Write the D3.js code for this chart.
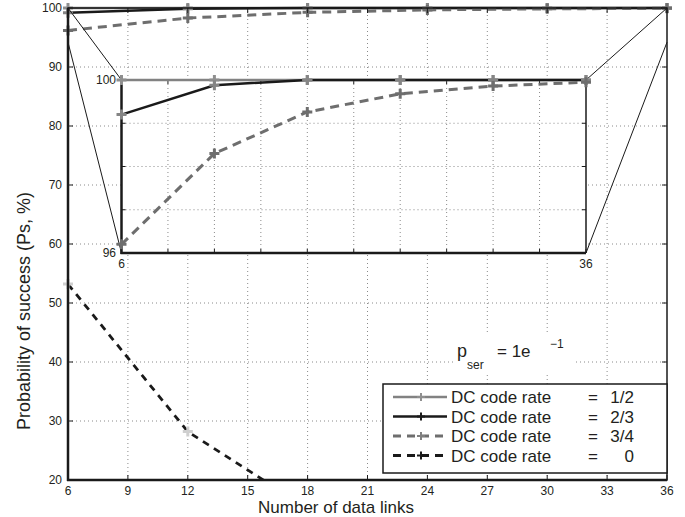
<!DOCTYPE html>
<html>
<head>
<meta charset="utf-8">
<script src="https://cdn.jsdelivr.net/npm/d3@7"></script>
<style>
body { margin: 0; background: #fff; }
text { font-family: "Liberation Sans", Arial, sans-serif; fill: #231f20; }
</style>
</head>
<body>
<svg id="chart" width="685" height="517"></svg>
<script>
// Values.
var links = [6, 12, 18, 24, 30, 36];
var rate_half = [100, 100, 100, 100, 100, 100];
var rate_two_thirds = [99.2, 99.88, 100, 100, 100, 100];
var rate_three_quarters = [96.2, 98.3, 99.26, 99.68, 99.86, 99.95];
var rate_zero = [53.2, 28.2, 15.2, 9, 5, 3];

var x_ticks = [6, 9, 12, 15, 18, 21, 24, 27, 30, 33, 36];
var y_ticks = [20, 30, 40, 50, 60, 70, 80, 90, 100];
var inset_y_ticks = [96, 97, 98, 99, 100];
var inset_y_labels = [96, 100];
var inset_x_labels = [6, 36];
var legend_names = ["DC code rate", "DC code rate", "DC code rate", "DC code rate"];
var legend_rates = ["1/2", "2/3", "3/4", "0"];

var svg = d3.select("#chart");

var x = d3.scaleLinear().domain([6, 36]).range([68, 667]);
var y = d3.scaleLinear().domain([20, 100]).range([480, 8]);
var xi = d3.scaleLinear().domain([6, 36]).range([121.5, 586]);
var yi = d3.scaleLinear().domain([96, 100]).range([253, 80]);

var series = [
    {values: rate_half, stroke: "#828282", dash: null, width: 2.5, marker: "#8f8f8f", legend_marker: "#8f8f8f"},
    {values: rate_two_thirds, stroke: "#1a1a1a", dash: null, width: 2.5, marker: "#858585", legend_marker: "#1a1a1a"},
    {values: rate_three_quarters, stroke: "#6e6e6e", dash: "9,6", width: 3, marker: "#6e6e6e", legend_marker: "#808080"},
    {values: rate_zero, stroke: "#1a1a1a", dash: "7,6", width: 2.8, marker: "#cfcfcf", legend_marker: "#1a1a1a"}
];

function plus(size) {
    return "M" + (-size) + ",0H" + size + "M0," + (-size) + "V" + size;
}

var defs = svg.append("defs");
defs.append("clipPath").attr("id", "main_clip").append("rect")
    .attr("x", 60).attr("y", 0).attr("width", 615).attr("height", 480);

// Main grid.
var grid = svg.append("g").attr("stroke", "#8a8a8a").attr("stroke-dasharray", "1,3");
grid.selectAll(".vg").data(x_ticks.slice(1, -1)).enter().append("line")
    .attr("x1", function(d) { return x(d); }).attr("x2", function(d) { return x(d); })
    .attr("y1", y(20)).attr("y2", y(100));
grid.selectAll(".hg").data(y_ticks.slice(1, -1)).enter().append("line")
    .attr("y1", function(d) { return y(d); }).attr("y2", function(d) { return y(d); })
    .attr("x1", x(6)).attr("x2", x(36));

// White patch behind the annotation.
svg.append("rect").attr("x", 454).attr("y", 334).attr("width", 122).attr("height", 38).attr("fill", "#fff");

// Main series.
var line_main = d3.line()
    .x(function(d, i) { return x(links[i]); })
    .y(function(d) { return y(d); });

var main_g = svg.append("g").attr("clip-path", "url(#main_clip)");
series.forEach(function(s) {
    main_g.append("path")
        .attr("d", line_main(s.values))
        .attr("fill", "none")
        .attr("stroke", s.stroke)
        .attr("stroke-width", s.width)
        .attr("stroke-dasharray", s.dash);
});
series.forEach(function(s) {
    main_g.selectAll(null).data(s.values).enter().append("path")
        .attr("d", plus(5))
        .attr("transform", function(d, i) { return "translate(" + x(links[i]) + "," + y(d) + ")"; })
        .attr("stroke", s.marker)
        .attr("stroke-width", 3);
});

// Main box and ticks.
var axes = svg.append("g").attr("stroke", "#1a1a1a");
axes.append("rect").attr("x", x(6)).attr("y", y(100)).attr("width", x(36) - x(6)).attr("height", y(20) - y(100))
    .attr("fill", "none").attr("stroke-width", 1.5);
axes.append("line").attr("x1", x(6)).attr("x2", x(6)).attr("y1", y(100)).attr("y2", y(20) + 1).attr("stroke-width", 2.5);
axes.append("line").attr("x1", x(6) - 1).attr("x2", x(36)).attr("y1", y(20)).attr("y2", y(20)).attr("stroke-width", 2.5);
x_ticks.forEach(function(t) {
    axes.append("line").attr("x1", x(t)).attr("x2", x(t)).attr("y1", y(20)).attr("y2", y(20) - 5);
    axes.append("line").attr("x1", x(t)).attr("x2", x(t)).attr("y1", y(100)).attr("y2", y(100) + 5);
});
y_ticks.forEach(function(t) {
    axes.append("line").attr("x1", x(6)).attr("x2", x(6) + 5).attr("y1", y(t)).attr("y2", y(t));
    axes.append("line").attr("x1", x(36)).attr("x2", x(36) - 5).attr("y1", y(t)).attr("y2", y(t));
});

svg.selectAll(".xt").data(x_ticks).enter().append("text")
    .attr("x", function(d) { return x(d); }).attr("y", 494.5)
    .attr("text-anchor", "middle").attr("font-size", 12).text(function(d) { return d; });
svg.selectAll(".yt").data(y_ticks).enter().append("text")
    .attr("x", 62).attr("y", function(d) { return y(d); }).attr("dy", "0.36em")
    .attr("text-anchor", "end").attr("font-size", 12).text(function(d) { return d; });

svg.append("text").attr("x", 336).attr("y", 512.5).attr("text-anchor", "middle")
    .attr("font-size", 17).text("Number of data links");
svg.append("text").attr("transform", "translate(30,311) rotate(-90)").attr("text-anchor", "middle")
    .attr("font-size", 18).text("Probability of success (Ps, %)");

// Connector lines from the zoomed region to the inset.
var conn = svg.append("g").attr("stroke", "#1a1a1a").attr("stroke-width", 1);
conn.append("line").attr("x1", x(6)).attr("y1", y(100)).attr("x2", xi(6)).attr("y2", yi(100));
conn.append("line").attr("x1", x(6)).attr("y1", y(94.2)).attr("x2", xi(6)).attr("y2", yi(96));
conn.append("line").attr("x1", x(36)).attr("y1", y(100)).attr("x2", xi(36)).attr("y2", yi(100));
conn.append("line").attr("x1", x(36)).attr("y1", y(94.2)).attr("x2", xi(36)).attr("y2", yi(96));

// Inset.
var inset = svg.append("g");
inset.append("rect").attr("x", xi(6)).attr("y", yi(100)).attr("width", xi(36) - xi(6)).attr("height", yi(96) - yi(100))
    .attr("fill", "#fff");
var igrid = inset.append("g").attr("stroke", "#8a8a8a").attr("stroke-dasharray", "1,3");
igrid.selectAll(null).data(x_ticks.slice(1, -1)).enter().append("line")
    .attr("x1", function(d) { return xi(d); }).attr("x2", function(d) { return xi(d); })
    .attr("y1", yi(96)).attr("y2", yi(100));
igrid.selectAll(null).data(inset_y_ticks.slice(1, -1)).enter().append("line")
    .attr("y1", function(d) { return yi(d); }).attr("y2", function(d) { return yi(d); })
    .attr("x1", xi(6)).attr("x2", xi(36));

var iaxes = inset.append("g").attr("stroke", "#1a1a1a");
x_ticks.forEach(function(t) {
    iaxes.append("line").attr("x1", xi(t)).attr("x2", xi(t)).attr("y1", yi(96)).attr("y2", yi(96) - 4);
    iaxes.append("line").attr("x1", xi(t)).attr("x2", xi(t)).attr("y1", yi(100)).attr("y2", yi(100) + 4);
});
inset_y_ticks.forEach(function(t) {
    iaxes.append("line").attr("x1", xi(6)).attr("x2", xi(6) + 4).attr("y1", yi(t)).attr("y2", yi(t));
    iaxes.append("line").attr("x1", xi(36)).attr("x2", xi(36) - 4).attr("y1", yi(t)).attr("y2", yi(t));
});
iaxes.append("line").attr("x1", xi(36)).attr("x2", xi(36)).attr("y1", yi(100)).attr("y2", yi(96)).attr("stroke-width", 1.5);
iaxes.append("line").attr("x1", xi(6)).attr("x2", xi(36)).attr("y1", yi(100)).attr("y2", yi(100)).attr("stroke-width", 1.5);

var line_inset = d3.line()
    .x(function(d, i) { return xi(links[i]); })
    .y(function(d) { return yi(d); });
series.slice(0, 3).forEach(function(s) {
    inset.append("path")
        .attr("d", line_inset(s.values))
        .attr("fill", "none")
        .attr("stroke", s.stroke)
        .attr("stroke-width", s.width)
        .attr("stroke-dasharray", s.dash);
});
series.slice(0, 3).forEach(function(s) {
    inset.selectAll(null).data(s.values).enter().append("path")
        .attr("d", plus(5))
        .attr("transform", function(d, i) { return "translate(" + xi(links[i]) + "," + yi(d) + ")"; })
        .attr("stroke", s.marker)
        .attr("stroke-width", 3);
});
iaxes.append("line").attr("x1", xi(6)).attr("x2", xi(6)).attr("y1", yi(100)).attr("y2", yi(96) + 1).attr("stroke-width", 2.5);
iaxes.append("line").attr("x1", xi(6) - 1).attr("x2", xi(36)).attr("y1", yi(96)).attr("y2", yi(96)).attr("stroke-width", 2.5);

inset.selectAll(null).data(inset_y_labels).enter().append("text")
    .attr("x", 116).attr("y", function(d) { return yi(d); }).attr("dy", "0.36em")
    .attr("text-anchor", "end").attr("font-size", 12).text(function(d) { return d; });
inset.selectAll(null).data(inset_x_labels).enter().append("text")
    .attr("x", function(d) { return xi(d); }).attr("y", 268)
    .attr("text-anchor", "middle").attr("font-size", 12).text(function(d) { return d; });

// Legend.
var legend = svg.append("g");
legend.append("rect").attr("x", 383).attr("y", 384).attr("width", 284).attr("height", 89)
    .attr("fill", "#fff").attr("stroke", "#1a1a1a").attr("stroke-width", 1.5);
series.forEach(function(s, i) {
    var ly = 397 + i * 19.5;
    legend.append("line").attr("x1", 393).attr("x2", 447).attr("y1", ly).attr("y2", ly)
        .attr("stroke", s.stroke).attr("stroke-width", s.width)
        .attr("stroke-dasharray", s.dash ? "8,6" : null);
    legend.append("path").attr("d", plus(4)).attr("transform", "translate(421," + ly + ")")
        .attr("stroke", s.legend_marker).attr("stroke-width", 2);
    legend.append("text").attr("x", 451).attr("y", ly).attr("dy", "0.36em")
        .attr("font-size", 17).text(legend_names[i]);
    legend.append("text").attr("x", 588).attr("y", ly).attr("dy", "0.36em")
        .attr("font-size", 17).text("=");
    legend.append("text").attr("x", 634).attr("y", ly).attr("dy", "0.36em")
        .attr("text-anchor", "end").attr("font-size", 17).text(legend_rates[i]);
});

// Annotation.
svg.append("text").attr("x", 457).attr("y", 357).attr("font-size", 18).text("p");
svg.append("text").attr("x", 467).attr("y", 369).attr("font-size", 12).text("ser");
svg.append("text").attr("x", 497).attr("y", 357).attr("font-size", 17).text("= 1e");
svg.append("text").attr("x", 550).attr("y", 348).attr("font-size", 12).text("\u22121");
</script>
</body>
</html>
